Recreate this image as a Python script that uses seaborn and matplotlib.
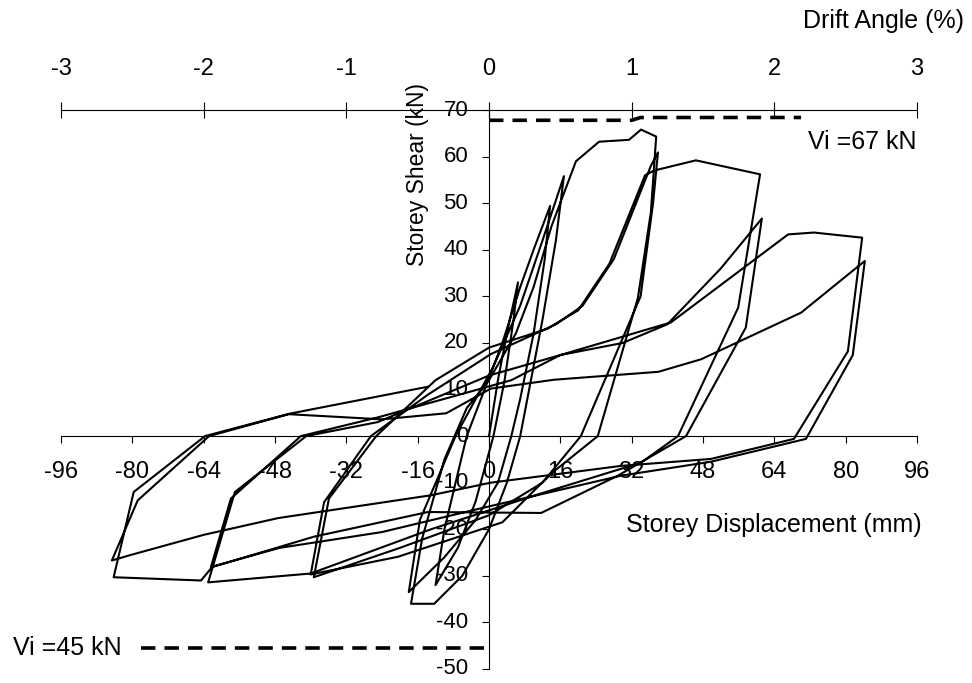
import numpy as np
import pandas as pd
import matplotlib
matplotlib.use('Agg')
import matplotlib.pyplot as plt
import seaborn as sns

# hysteresis path, one list per cycle (storey displacement mm, storey shear kN)
cyc1_x = [0, 2, 4, 6.5, 5.5, 3.5, 1, -3, -7, -12]
cyc1_y = [0, 12, 22, 33, 25, 12, 0, -14, -24, -32]
cyc2_x = [-10, -7, -5, -1, 3, 7, 10, 13.7, 12.5, 10, 7, 5, 2, -3, -10, -18]
cyc2_y = [-20, -8, 0, 10, 20, 32, 40, 49.4, 38, 22, 8, 0, -10, -18, -26, -33.5]
cyc3_x = [-15.5, -7.5, 1, 7, 12, 16.8, 15, 12, 9, 7, 4, 0, -6, -12.3, -17.5]
cyc3_y = [-18, 0, 15, 28, 42, 55.8, 42, 25, 10, 0, -10, -20, -30, -36, -36]
cyc4_x = [-15, -10, -5, 0, 6, 10, 14, 19.5, 24.7, 31.4, 34.1, 37.5, 36.3, 33.4,
          24.4, 14, 3, -20.4, -40]
cyc4_y = [-22, -5, 6, 12, 22, 32, 45, 59, 63.2, 63.6, 65.8, 64.3, 48, 29.7,
          0, -8, -18.5, -25.9, -29.7]
cyc5_x = [-37, -26.5, -13.7, 0.4, 15, 21, 28, 36.3, 37.9, 36.8, 34, 20.6, 12, 0,
          -20, -39.3]
cyc5_y = [-14.2, 0, 8.9, 17.6, 24, 28, 38, 58, 60.9, 50, 30, 0, -10, -17,
          -24, -30.3]
cyc6_x = [-35.9, -25.3, -12, 0, 13, 20, 27, 35, 37, 46.4, 60.8, 55.9, 42.4, 34.1,
          11.7, -13, -40, -63]
cyc6_y = [-13.4, 0, 12, 19, 23, 27, 37, 56, 57, 59.2, 56.2, 27.6, 0, -5.7,
          -12.3, -20, -29.5, -31.4]
cyc7_x = [-57, -41, -25, -10, 0, 16, 30, 40, 52, 61.2, 57.6, 44.2, 28.9, 11.7,
          -13.7, -39.3, -62.4]
cyc7_y = [-12, 0, 3, 9, 13, 17.4, 20, 24, 36, 46.7, 23.3, 0, -8.5, -16.5,
          -16.3, -21.6, -28.2]
cyc8_x = [-57.9, -42.2, -25, -10, 5, 16, 40.8, 67.1, 72.9, 83.7, 80.5, 68.4, 49.8,
          29.6, 0.4, -13, -47.3, -64, -80.3, -84.6]
cyc8_y = [-13.4, 0, 4, 8, 12, 17.4, 24.4, 43.3, 43.7, 42.6, 18.2, -0.6, -4.9,
          -6.4, -10, -12.7, -17.6, -21.2, -25.5, -26.7]
cyc9_x = [-78.8, -62.8, -44.9, -24, -9.6, 0.4, 14.6, 38, 47.6, 70, 84.3, 81.6,
          71.1, 49.8, 29.6, -1.8, -24, -47, -62, -64.6, -84.2]
cyc9_y = [-13.8, 0, 4.7, 3.6, 4.9, 10.2, 12.1, 13.8, 16.5, 26.5, 37.6, 17.4,
          -0.6, -5.5, -8.5, -15.5, -20.6, -24, -28, -31, -30.3]
cyc10_x = [-79.7, -63.7, -44.8, -13.7]
cyc10_y = [-12, 0, 4.8, 10.6]

# design shear reference lines
vi_top_x = [0, 32, 34, 70]
vi_top_y = [67.8, 67.8, 68.4, 68.4]
vi_bot_x = [-78, 1]
vi_bot_y = [-45.4, -45.4]

disp_ticks = list(range(-96, 97, 16))
shear_ticks = list(range(-50, 71, 10))
drift_ticks = [-3, -2, -1, 0, 1, 2, 3]

xs = cyc1_x + cyc2_x + cyc3_x + cyc4_x + cyc5_x + cyc6_x + cyc7_x + cyc8_x + cyc9_x + cyc10_x
ys = cyc1_y + cyc2_y + cyc3_y + cyc4_y + cyc5_y + cyc6_y + cyc7_y + cyc8_y + cyc9_y + cyc10_y
df = pd.DataFrame({'disp': xs, 'shear': ys})

sns.set_theme(style='white')
plt.rcParams['font.family'] = ['Liberation Sans', 'DejaVu Sans']
plt.rcParams['axes.unicode_minus'] = False
plt.rcParams['text.color'] = 'black'
plt.rcParams['axes.labelcolor'] = 'black'

fig = plt.figure(figsize=(9.72, 6.83), dpi=100)
ax = fig.add_axes([0.0628, 0.0205, 0.8806, 0.8184])

sns.lineplot(data=df, x='disp', y='shear', sort=False, estimator=None,
             color='black', linewidth=1.5, ax=ax)
ax.plot(vi_top_x, vi_top_y, color='black', lw=2.6, ls=(0, (4, 2.5)))
ax.plot(vi_bot_x, vi_bot_y, color='black', lw=2.6, ls=(0, (4, 2.5)))

ax.set_xlim(-96, 96)
ax.set_ylim(-50, 70)
ax.spines['left'].set_position(('data', 0))
ax.spines['bottom'].set_position(('data', 0))
ax.spines['right'].set_visible(False)
ax.spines['top'].set_visible(False)
for s in ['left', 'bottom']:
    ax.spines[s].set_color('black')
    ax.spines[s].set_linewidth(0.8)

ax.set_xticks(disp_ticks)
ax.set_yticks(shear_ticks)
ax.tick_params(axis='x', direction='out', length=5, width=0.8, pad=13,
               labelsize=17, colors='black', bottom=True)
ax.tick_params(axis='y', direction='out', length=5, width=0.8, pad=10,
               labelsize=16, colors='black', left=True)
for lab in ax.get_yticklabels():
    lab.set_verticalalignment('center')

ax.set_xlabel('Storey Displacement (mm)', fontsize=18, va='center', ha='center')
ax.xaxis.set_label_coords(0.833, 0.258)
ax.set_ylabel('Storey Shear (kN)', fontsize=16.5, va='center', ha='center')
ax.yaxis.set_label_coords(0.417, 0.885)

sec = ax.secondary_xaxis('top', functions=(lambda d: d / 32.0, lambda p: p * 32.0))
sec.set_xticks(drift_ticks)
sec.tick_params(direction='inout', length=11, width=0.8, pad=16, labelsize=17,
                colors='black')
sec.spines['top'].set_color('black')
sec.spines['top'].set_linewidth(0.8)

ax.text(88.4, 89.1, 'Drift Angle (%)', ha='center', va='center', fontsize=18)
ax.text(-106.8, -45.4, 'Vi =45 kN', ha='left', va='center', fontsize=18)
ax.text(71.6, 63.2, 'Vi =67 kN', ha='left', va='center', fontsize=18)

fig.savefig('out.png', dpi=100, facecolor='white')
